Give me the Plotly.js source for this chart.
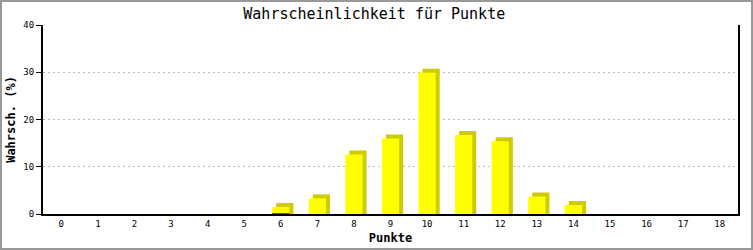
<!DOCTYPE html>
<html>
<head>
<meta charset="utf-8">
<script src="https://cdn.plot.ly/plotly-3.0.1.min.js"></script>
<style>
html,body{margin:0;padding:0;background:#fff;}
#chart{width:749px;height:246px;border:2px solid #999;}
</style>
</head>
<body>
<div id="chart"></div>
<script>
const punkte = [0,1,2,3,4,5,6,7,8,9,10,11,12,13,14,15,16,17,18];
const wahrscheinlichkeit = [0,0,0,0,0,0,1.5,3.3,12.6,16.0,29.9,16.7,15.4,3.7,1.9,0,0,0,0];
const rot = [0,0,0,0,0,0,0.2,0,0,0,0,0,0,0,0,0,0,0,0];
const tickLabels = punkte.map(String);

const barWidth = 0.47;
const depthX = 0.11;   // 3D side offset in category units
const depthY = 0.85;   // 3D top offset in value units

const mono = "'DejaVu Sans Mono', 'Liberation Mono', monospace";

const shadow = {
  type: 'bar', x: punkte,
  y: wahrscheinlichkeit.map(v => v > 0 ? v + depthY : 0),
  width: barWidth, offset: -barWidth/2 + depthX,
  marker: {color: '#cccc00', line: {width: 0}},
  hoverinfo: 'skip', showlegend: false
};
const front = {
  type: 'bar', x: punkte, y: wahrscheinlichkeit,
  width: barWidth, offset: -barWidth/2,
  marker: {color: '#ffff00', line: {width: 0}},
  showlegend: false
};
const red = {
  type: 'bar', x: punkte, y: rot,
  width: barWidth, offset: -barWidth/2,
  marker: {color: '#ff0000', line: {width: 0}},
  showlegend: false
};

const layout = {
  width: 749, height: 246,
  margin: {l: 41, r: 13, t: 23, b: 34, pad: 0},
  paper_bgcolor: '#fff', plot_bgcolor: '#fff',
  barmode: 'overlay', bargap: 0.5,
  title: {text: 'Wahrscheinlichkeit für Punkte', x: 0.497, xanchor: 'center', y: 0.975, yanchor: 'top',
          font: {family: mono, size: 15, color: '#000'}},
  xaxis: {
    range: [-0.5, 18.5], tickvals: punkte, ticktext: tickLabels,
    showgrid: false, zeroline: false, showline: true, linecolor: '#000', linewidth: 2,
    ticks: '', tickfont: {family: mono, size: 9, color: '#000'},
    title: {text: '<b>Punkte</b>', font: {family: mono, size: 12, color: '#000'}, standoff: 6}
  },
  yaxis: {
    range: [0, 40], tickvals: [0,10,20,30,40],
    showgrid: true, gridcolor: '#bbbbbb', griddash: '2px,3px', gridwidth: 1,
    zeroline: false, showline: true, linecolor: '#000', linewidth: 2, mirror: true,
    ticks: 'outside', ticklen: 5, tickcolor: '#000', tickwidth: 1,
    tickfont: {family: mono, size: 9, color: '#000'},
    title: {text: '<b>Wahrsch. (%)</b>', font: {family: mono, size: 12, color: '#000'}, standoff: 5}
  }
};

Plotly.newPlot('chart', [shadow, front, red], layout, {staticPlot: true, displayModeBar: false});
</script>
</body>
</html>
